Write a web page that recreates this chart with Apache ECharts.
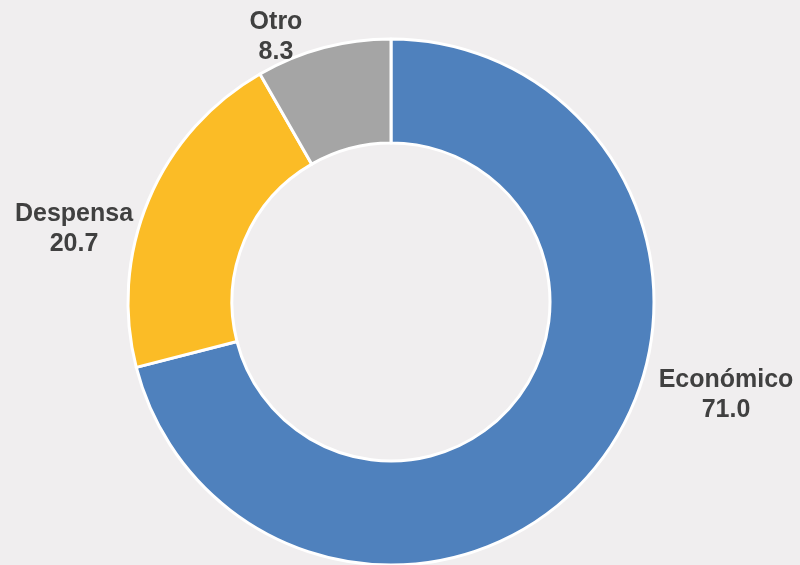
<!DOCTYPE html>
<html>
<head>
<meta charset="utf-8">
<script src="https://cdn.jsdelivr.net/npm/echarts@6/dist/echarts.min.js"></script>
<style>
  html, body { margin: 0; padding: 0; background: #f0eeef; }
  #chart { width: 800px; height: 565px; }
</style>
</head>
<body>
<div id="chart"></div>
<script>
  const categories = ['Económico', 'Despensa', 'Otro'];
  const values = [71.0, 20.7, 8.3];
  const colors = ['#4f81bd', '#fbbc26', '#a5a5a5'];

  // label anchors (center of text block), Excel style placement
  const labelPos = [[726, 395], [74, 229], [276, 37]];

  const chart = echarts.init(document.getElementById('chart'));

  chart.setOption({
    backgroundColor: '#f0eeef',
    animation: false,
    series: [
      {
        type: 'pie',
        center: [391, 302],
        radius: [159, 263],
        startAngle: 90,
        clockwise: true,
        itemStyle: { borderColor: '#ffffff', borderWidth: 3 },
        label: {
          show: true,
          position: 'outside',
          formatter: (p) => p.name + '\n' + p.value.toFixed(1),
          fontFamily: 'Liberation Sans, Arial, sans-serif',
          fontWeight: 'bold',
          fontSize: 25,
          lineHeight: 30,
          color: '#404040',
          align: 'center',
          overflow: 'none',
          edgeDistance: 0,
        },
        labelLine: { show: false },
        labelLayout: (params) => ({
          x: labelPos[params.dataIndex][0],
          y: labelPos[params.dataIndex][1],
          align: 'center',
          verticalAlign: 'middle',
        }),
        emphasis: { disabled: true },
        data: categories.map((name, i) => ({
          name: name,
          value: values[i],
          itemStyle: { color: colors[i] },
        })),
      },
    ],
  });
</script>
</body>
</html>
